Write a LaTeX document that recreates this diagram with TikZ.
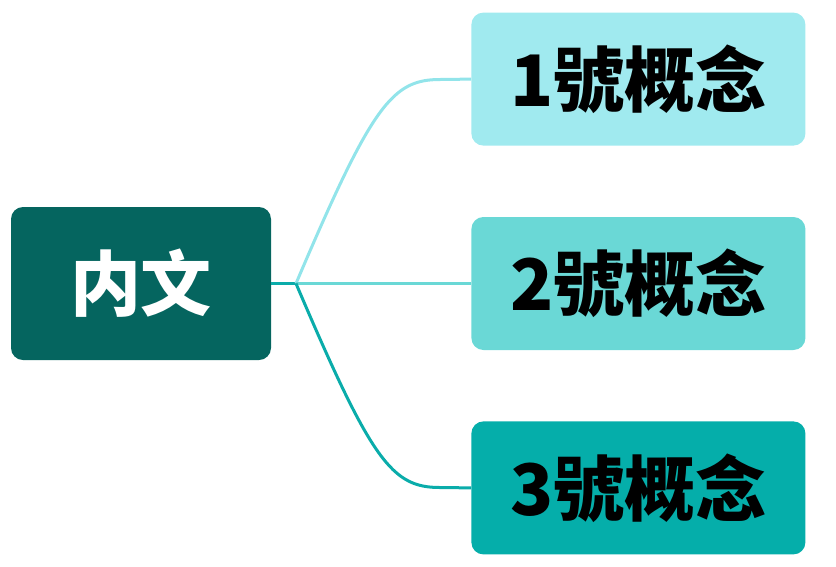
\documentclass[tikz,border=0pt]{standalone}
\usepackage{fontspec}
\newfontfamily\cjk{Noto Sans CJK TC Black}
\usetikzlibrary{positioning}
\definecolor{rootteal}{HTML}{05655F}
\definecolor{paleaqua}{HTML}{A0EAEF}
\definecolor{midaqua}{HTML}{6AD8D6}
\definecolor{deepaqua}{HTML}{05AEAA}
\definecolor{paleline}{HTML}{92E4EA}
\definecolor{deepline}{HTML}{0AACAA}
\begin{document}
\begin{tikzpicture}[
  x=1pt, y=-1pt,
  every node/.style={font=\cjk\fontsize{71}{80}\selectfont},
  idea/.style={
    rounded corners=12pt,
    align=center,
    inner sep=0pt,
    minimum width=334pt,
    minimum height=133pt
  },
  link/.style={line width=3pt}
]
\useasboundingbox (0,0) rectangle (836,566);
\node[rounded corners=12pt, fill=rootteal, text=white, inner sep=0pt,
  minimum width=260pt, minimum height=153pt] (root) at (141,283.5) {内文};
\node[idea, fill=midaqua, right=200pt of root] (two) {2號概念};
\node[idea, fill=paleaqua, above=71pt of two] (one) {1號概念};
\node[idea, fill=deepaqua, below=71pt of two] (three) {3號概念};
\coordinate (fork) at (296,283.5);
\draw[link, deepline] (root.east) -- (fork);
\draw[link, paleline] (fork) .. controls (372,105) and (392,79.5) .. (440,79.5) -- (one.west);
\draw[link, midaqua] (fork) -- (two.west);
\draw[link, deepline] (fork) .. controls (372,462) and (392,487.5) .. (440,487.5) -- (three.west);
\end{tikzpicture}
\end{document}
